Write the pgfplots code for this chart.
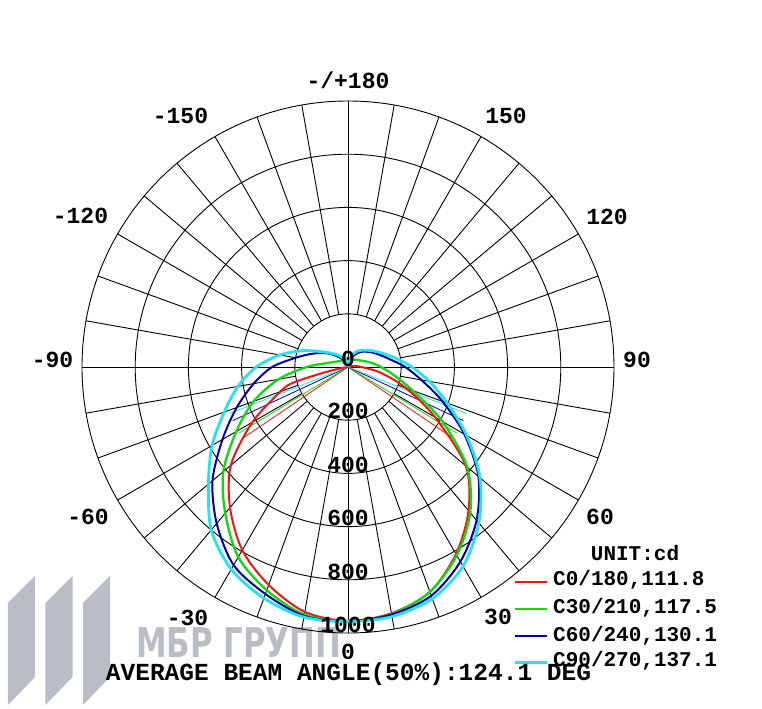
\documentclass[border=0pt]{standalone}
\usepackage{graphicx}
\usepackage{pgfplots}
\pgfplotsset{compat=1.18}
\usepackage{pgfplotstable}
\usepgfplotslibrary{polar}
\usetikzlibrary{backgrounds}
\usepackage{fontspec}
\setmainfont{Liberation Mono}
\newfontfamily\wmfont{DejaVu Sans}

\definecolor{cred}{RGB}{240,20,20}
\definecolor{cgreen}{RGB}{20,215,20}
\definecolor{cblue}{RGB}{0,0,165}
\definecolor{ccyan}{RGB}{40,225,235}
\definecolor{wm}{RGB}{186,189,198}

% gamma (0 = down, +90 = right), intensity in cd
\pgfplotstableread{
g I
-90 0
-80 25
-77 90
-74 215
-70 270
-60 415
-50 575
-40 690
-30 795
-20 872
-10 935
0 955
10 940
20 900
30 812
40 705
50 578
60 378
70 232
80 125
90 50
100 22
110 8
120 0
}\redtab

\pgfplotstableread{
g I
-180 27
-170 27
-160 28
-150 29
-140 32
-130 36
-120 43
-110 55
-100 82
-90 155
-80 265
-70 378
-60 485
-50 612
-40 718
-30 825
-20 893
-10 945
0 955
10 943
20 900
30 818
40 715
50 585
60 410
70 258
80 175
90 124
100 90
110 65
120 50
130 42
140 36
150 32
160 29
170 28
180 27
}\greentab

\pgfplotstableread{
g I
-180 0
-170 6
-160 15
-150 28
-140 45
-130 72
-120 105
-110 145
-100 200
-90 285
-80 360
-70 445
-60 545
-50 665
-40 768
-30 860
-20 908
-10 950
0 955
10 945
20 915
30 845
40 752
50 640
60 505
70 378
80 280
90 215
100 162
110 130
120 108
130 90
140 74
150 55
160 35
170 15
180 0
}\bluetab

\pgfplotstableread{
g I
-180 0
-170 12
-160 25
-150 40
-140 58
-130 80
-120 115
-110 180
-100 260
-90 345
-80 420
-70 495
-60 590
-50 685
-40 800
-30 878
-20 925
-10 955
0 957
10 953
20 927
30 865
40 765
50 648
60 515
70 397
80 310
90 240
100 185
110 145
120 118
130 98
140 82
150 68
160 50
170 25
180 0
}\cyantab

\begin{document}
\begin{tikzpicture}[
  lbl/.style={font=\fontsize{23bp}{27bp}\selectfont\bfseries, inner sep=0pt},
  leg/.style={font=\fontsize{21bp}{25bp}\selectfont\bfseries, inner sep=0pt, anchor=base west},
  gl/.style={black, line width=0.9bp}]
\begin{polaraxis}[
  scale only axis, width=532bp, height=532bp,
  ymin=0, ymax=1000,
  xtick=\empty,
  ytick={200,400,600,800},
  yticklabels={},
  yticklabel style={opacity=0},
  xmajorgrids=false, ymajorgrids=true,
  xminorgrids=false, yminorgrids=false,
  major grid style={black, line width=0.9bp},
  axis line style={black, line width=0.9bp},
  y axis line style={draw=none},
  major tick length=0pt,
  clip=false,
]
\pgfplotsinvokeforeach{0,10,...,350}{\draw[gl] (axis cs:#1,200) -- (axis cs:#1,1000);}
\draw[gl] (axis cs:0,1000) -- (axis cs:180,1000);
\draw[gl] (axis cs:90,1000) -- (axis cs:270,1000);

% beam angle lines (half angle, 50% of max)
\addplot[cred, line width=0.8bp] coordinates {(-145.9,478) (0,0) (-34.1,478)};
\addplot[cgreen, line width=0.8bp] coordinates {(-148.75,478) (0,0) (-31.25,478)};
\addplot[cblue, line width=0.8bp] coordinates {(-155.05,478) (0,0) (-24.95,478)};
\addplot[ccyan, line width=0.8bp] coordinates {(-158.55,478) (0,0) (-21.45,478)};

\addplot[cred, line width=2bp, smooth] table[x expr=\thisrow{g}-90, y=I] {\redtab};
\addplot[cgreen, line width=2.3bp, smooth] table[x expr=\thisrow{g}-90, y=I] {\greentab};
\addplot[cblue, line width=2bp, smooth] table[x expr=\thisrow{g}-90, y=I] {\bluetab};
\addplot[ccyan, line width=2.8bp, smooth] table[x expr=\thisrow{g}-90, y=I] {\cyantab};

\coordinate (C) at (axis cs:0,0);
\end{polaraxis}

% watermark
\begin{scope}[on background layer]
\fill[wm] ([shift={(-340bp,-338bp)}]C) -- ([shift={(-340bp,-236bp)}]C) -- ([shift={(-313bp,-209bp)}]C) -- ([shift={(-313bp,-310bp)}]C) -- cycle;
\fill[wm] ([shift={(-302.5bp,-338bp)}]C) -- ([shift={(-302.5bp,-236bp)}]C) -- ([shift={(-275.5bp,-209bp)}]C) -- ([shift={(-275.5bp,-310bp)}]C) -- cycle;
\fill[wm] ([shift={(-265bp,-338bp)}]C) -- ([shift={(-265bp,-236bp)}]C) -- ([shift={(-238bp,-209bp)}]C) -- ([shift={(-238bp,-310bp)}]C) -- cycle;
\node[anchor=base west, inner sep=0pt, text=wm, font={\wmfont\fontsize{41bp}{45bp}\selectfont\bfseries}] at ([shift={(-212bp,-290bp)}]C) {\scalebox{0.75}[1]{МБР ГРУПП}};
\end{scope}

% angle labels
\node[lbl] at ([shift={(0bp,286.5bp)}]C) {-/+180};
\node[lbl] at ([shift={(158bp,251bp)}]C) {150};
\node[lbl] at ([shift={(-167.5bp,251.5bp)}]C) {-150};
\node[lbl] at ([shift={(259bp,150bp)}]C) {120};
\node[lbl] at ([shift={(-267.5bp,151.5bp)}]C) {-120};
\node[lbl] at ([shift={(289bp,7bp)}]C) {90};
\node[lbl] at ([shift={(-295.5bp,7bp)}]C) {-90};
\node[lbl] at ([shift={(252bp,-150bp)}]C) {60};
\node[lbl] at ([shift={(-260bp,-150bp)}]C) {-60};
\node[lbl] at ([shift={(150bp,-250bp)}]C) {30};
\node[lbl] at ([shift={(-160.5bp,-250.5bp)}]C) {-30};
\node[lbl] at ([shift={(0bp,-285bp)}]C) {0};

% ring labels
\node[lbl, anchor=base] at ([shift={(0bp,0bp)}]C) {0};
\node[lbl, anchor=base] at ([shift={(0bp,-52bp)}]C) {200};
\node[lbl, anchor=base] at ([shift={(0bp,-105.5bp)}]C) {400};
\node[lbl, anchor=base] at ([shift={(0bp,-158.5bp)}]C) {600};
\node[lbl, anchor=base] at ([shift={(0bp,-212.5bp)}]C) {800};
\node[lbl, anchor=base] at ([shift={(0bp,-265.5bp)}]C) {1000};

% legend
\node[font=\fontsize{21bp}{25bp}\selectfont\bfseries, inner sep=0pt] at ([shift={(287bp,-185.5bp)}]C) {UNIT:cd};
\draw[cred, line width=2bp] ([shift={(167bp,-214.7bp)}]C) -- ++(32bp,0);
\node[leg] at ([shift={(205bp,-219bp)}]C) {C0/180,111.8};
\draw[cgreen, line width=2.3bp] ([shift={(167bp,-241.7bp)}]C) -- ++(32bp,0);
\node[leg] at ([shift={(205bp,-246.5bp)}]C) {C30/210,117.5};
\draw[cblue, line width=2bp] ([shift={(167bp,-269bp)}]C) -- ++(32bp,0);
\node[leg] at ([shift={(205bp,-274.5bp)}]C) {C60/240,130.1};
\draw[ccyan, line width=2.8bp] ([shift={(167bp,-295.7bp)}]C) -- ++(32bp,0);
\node[leg] at ([shift={(205bp,-299.5bp)}]C) {C90/270,137.1};

% bottom text
\node[font=\fontsize{24.5bp}{28bp}\selectfont\bfseries, inner sep=0pt, anchor=base] at ([shift={(0.5bp,-313bp)}]C) {AVERAGE BEAM ANGLE(50\%):124.1 DEG};

\path[use as bounding box] ([shift={(-348bp,-342bp)}]C) rectangle ([shift={(414bp,367bp)}]C);
\end{tikzpicture}
\end{document}
